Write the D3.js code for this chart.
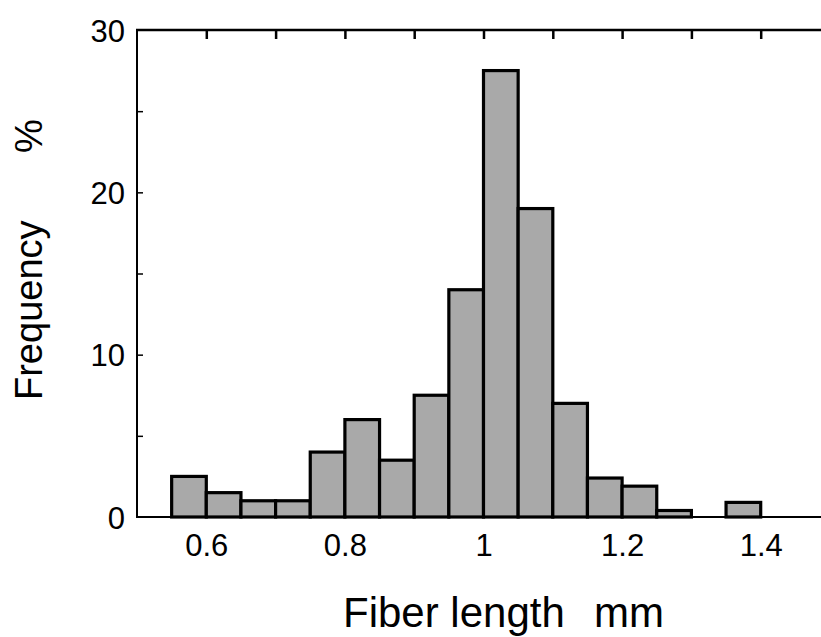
<!DOCTYPE html>
<html>
<head>
<meta charset="utf-8">
<script src="https://cdn.jsdelivr.net/npm/d3@7"></script>
<style>
  html, body { margin: 0; padding: 0; background: #fff; }
  svg { display: block; }
  text { font-family: "Liberation Sans", Arial, Helvetica, sans-serif; fill: #000; }
</style>
</head>
<body>
<svg id="chart" width="821" height="637"></svg>
<script>
// ---- data ----
const binStarts = [0.55, 0.60, 0.65, 0.70, 0.75, 0.80, 0.85, 0.90, 0.95, 1.00, 1.05, 1.10, 1.15, 1.20, 1.25, 1.30, 1.35];
const frequency = [2.5, 1.5, 1.0, 1.0, 4.0, 6.0, 3.5, 7.5, 14.0, 27.5, 19.0, 7.0, 2.4, 1.9, 0.4, 0.0, 0.9];
const binWidth = 0.05;
const xTickLabels = [0.6, 0.8, 1.0, 1.2, 1.4];
const xTopTicks = [0.6, 0.7, 0.8, 0.9, 1.0, 1.1, 1.2, 1.3, 1.4];
const yTickLabels = [0, 10, 20, 30];
const yMinorTicks = [5, 10, 15, 20, 25];
const xTitle = ["Fiber length", "mm"];
const yTitle = ["Frequency", "%"];

// ---- layout ----
const svg = d3.select("#chart");
const x = d3.scaleLinear().domain([0.5, 1.5]).range([137, 830]);
const y = d3.scaleLinear().domain([0, 30]).range([517, 30]);

const bars = binStarts.map((b, i) => ({ x0: b, x1: b + binWidth, v: frequency[i] })).filter(d => d.v > 0);

// bars
svg.append("g").selectAll("rect").data(bars).join("rect")
  .attr("x", d => x(d.x0))
  .attr("y", d => y(d.v))
  .attr("width", d => x(d.x1) - x(d.x0))
  .attr("height", d => y(0) - y(d.v))
  .attr("fill", "#a9a9a9")
  .attr("stroke", "#000")
  .attr("stroke-width", 3.2);

// frame lines (left, top, bottom)
const frame = svg.append("g").attr("stroke", "#000").attr("fill", "none");
frame.append("line").attr("x1", x(0.5)).attr("x2", x(0.5)).attr("y1", y(30) - 1).attr("y2", y(0) + 1).attr("stroke-width", 2);
frame.append("line").attr("x1", x(0.5) - 1).attr("x2", 821).attr("y1", y(30)).attr("y2", y(30)).attr("stroke-width", 2.5);
frame.append("line").attr("x1", x(0.5) - 1).attr("x2", 821).attr("y1", y(0)).attr("y2", y(0)).attr("stroke-width", 2.2);

// top axis ticks (inward)
const topAxis = d3.axisBottom(x).tickValues(xTopTicks).tickSize(9).tickFormat("");
const gTop = svg.append("g").attr("transform", `translate(0,${y(30)})`).call(topAxis);
gTop.select(".domain").remove();
gTop.selectAll(".tick line").attr("stroke", "#000").attr("stroke-width", 2.5);

// left axis minor ticks (inward)
const leftAxis = d3.axisRight(y).tickValues(yMinorTicks).tickSize(6).tickFormat("");
const gLeft = svg.append("g").attr("transform", `translate(${x(0.5)},0)`).call(leftAxis);
gLeft.select(".domain").remove();
gLeft.selectAll(".tick line").attr("stroke", "#000").attr("stroke-width", 1.5);

// y tick labels
const yLab = d3.axisLeft(y).tickValues(yTickLabels).tickSize(0).tickPadding(12).tickFormat(d3.format("d"));
const gYL = svg.append("g").attr("transform", `translate(${x(0.5)},0)`).call(yLab);
gYL.select(".domain").remove();
gYL.selectAll("text").style("font-size", "31px").attr("dy", "0.36em")
  .style("font-family", '"Liberation Sans", Arial, sans-serif');

// x tick labels
const xLab = d3.axisBottom(x).tickValues(xTickLabels).tickSize(0).tickPadding(17)
  .tickFormat(d => d === 1 ? "1" : d3.format(".1f")(d));
const gXL = svg.append("g").attr("transform", `translate(0,${y(0)})`).call(xLab);
gXL.select(".domain").remove();
gXL.selectAll("text").style("font-size", "31px")
  .style("font-family", '"Liberation Sans", Arial, sans-serif');

// axis titles
svg.append("text").attr("x", 343).attr("y", 627).style("font-size", "42px").text(xTitle[0]);
svg.append("text").attr("x", 594).attr("y", 627).style("font-size", "42px").text(xTitle[1]);

svg.append("text").attr("transform", "translate(42,400) rotate(-90)").style("font-size", "38px").text(yTitle[0]);
svg.append("text").attr("transform", "translate(42,153) rotate(-90)").style("font-size", "38px").text(yTitle[1]);
</script>
</body>
</html>
